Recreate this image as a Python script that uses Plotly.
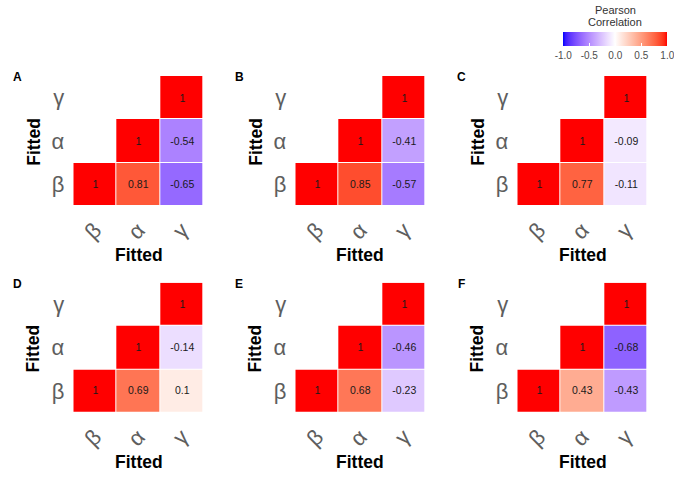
import numpy as np
import plotly.graph_objects as go

# ---------------- data ----------------
panels = ["A", "B", "C", "D", "E", "F"]
var_labels = ["β", "α", "γ"]          # order on both axes (x left->right, y bottom->top)
r_beta_alpha = [0.81, 0.85, 0.77, 0.69, 0.68, 0.43]
r_beta_gamma = [-0.65, -0.57, -0.11, 0.10, -0.23, -0.43]
r_alpha_gamma = [-0.54, -0.41, -0.09, -0.14, -0.46, -0.68]
cbar_ticks = [-1.0, -0.5, 0.0, 0.5, 1.0]
cbar_ticktext = ["-1.0", "-0.5", "0.0", "0.5", "1.0"]
axis_title = "Fitted"

W, H = 674, 477


def px(x):
    return x / W


def py(y):
    return 1 - y / H


# ------------- Lab-interpolated diverging colour scale (blue-white-red) -------------
M = np.array([[0.4124564, 0.3575761, 0.1804375],
              [0.2126729, 0.7151522, 0.0721750],
              [0.0193339, 0.1191920, 0.9503041]])
Minv = np.linalg.inv(M)
WN = np.array([0.95047, 1.0, 1.08883])
d = 6 / 29


def rgb2lab(rgb):
    c = np.array(rgb) / 255.0
    lin = np.where(c <= 0.04045, c / 12.92, ((c + 0.055) / 1.055) ** 2.4)
    xyz = M @ lin / WN
    f = np.where(xyz > d ** 3, np.cbrt(xyz), xyz / (3 * d * d) + 4 / 29)
    return np.array([116 * f[1] - 16, 500 * (f[0] - f[1]), 200 * (f[1] - f[2])])


def lab2rgb(lab):
    L, a, b = lab
    fy = (L + 16) / 116
    fx = fy + a / 500
    fz = fy - b / 200
    fs = np.array([fx, fy, fz])
    xyz = np.where(fs > d, fs ** 3, 3 * d * d * (fs - 4 / 29)) * WN
    lin = Minv @ xyz
    lin = np.clip(lin, 0, 1)
    c = np.where(lin <= 0.0031308, 12.92 * lin, 1.055 * lin ** (1 / 2.4) - 0.055)
    c = np.clip(c * 255, 0, 255)
    return "rgb(%d,%d,%d)" % tuple(np.round(c).astype(int))


lab_blue = rgb2lab([0, 0, 255])
lab_white = rgb2lab([255, 255, 255])
lab_red = rgb2lab([255, 0, 0])
colorscale = []
n = 40
for i in range(n + 1):
    s = i / n
    v = -1 + 2 * s
    if v < 0:
        lab = lab_white + (lab_blue - lab_white) * (-v)
    else:
        lab = lab_white + (lab_red - lab_white) * v
    colorscale.append([s, lab2rgb(lab)])


def fmt(v):
    return ("%.2f" % v).rstrip("0").rstrip(".")


# ---------------- layout geometry (pixels, page coordinates) ----------------
col_x0 = [73.3, 295.3, 517.3]
cell_w = 130.4
row_y0 = [76.0, 282.7]
cell_h = 130.0

fig = go.Figure()
annotations = []
layout_axes = {}
tick_font = dict(size=22, color="#5e5e5e", family="Liberation Sans")

for k, p in enumerate(panels):
    r, c = divmod(k, 3)
    x0 = col_x0[c]
    y0 = row_y0[r]
    z = [[1.0, r_beta_alpha[k], r_beta_gamma[k]],
         [None, 1.0, r_alpha_gamma[k]],
         [None, None, 1.0]]
    txt = [["" if v is None else fmt(v) for v in row] for row in z]
    idx = "" if k == 0 else str(k + 1)
    fig.add_trace(go.Heatmap(
        z=z, x=var_labels, y=var_labels, text=txt, texttemplate="%{text}",
        textfont=dict(size=10.5, color="#1a1a1a", family="Liberation Sans"),
        coloraxis="coloraxis", xgap=1, ygap=1, hoverinfo="skip",
        xaxis="x" + idx, yaxis="y" + idx,
    ))
    layout_axes["xaxis" + idx] = dict(
        domain=[px(x0), px(x0 + cell_w)], anchor="y" + idx,
        showgrid=False, zeroline=False, showline=False, ticks="",
        tickangle=-45, tickfont=tick_font,
        ticklabelstandoff=6, type="category", fixedrange=True, automargin=False,
    )
    layout_axes["yaxis" + idx] = dict(
        domain=[py(y0 + cell_h), py(y0)], anchor="x" + idx,
        showgrid=False, zeroline=False, showline=False, ticks="",
        tickfont=tick_font,
        ticklabelstandoff=8, type="category", fixedrange=True, automargin=False,
    )
    # panel letter
    annotations.append(dict(
        x=px(x0 - 56), y=py(y0 + 1), xref="paper", yref="paper",
        text="<b>%s</b>" % p, showarrow=False, xanchor="center", yanchor="middle",
        font=dict(size=12, color="black", family="Liberation Sans"),
    ))
    # y-axis title
    annotations.append(dict(
        x=px(x0 - 40), y=py(y0 + cell_h / 2 + 0.5), xref="paper", yref="paper",
        text="<b>%s</b>" % axis_title, showarrow=False, textangle=-90,
        xanchor="center", yanchor="middle",
        font=dict(size=17.5, color="black", family="Liberation Sans"),
    ))
    # x-axis title
    annotations.append(dict(
        x=px(x0 + cell_w / 2), y=py(y0 + cell_h + 49.5), xref="paper", yref="paper",
        text="<b>%s</b>" % axis_title, showarrow=False,
        xanchor="center", yanchor="middle",
        font=dict(size=17.5, color="black", family="Liberation Sans"),
    ))

# colour bar title
annotations.append(dict(x=px(615), y=py(10), xref="paper", yref="paper",
                        text="Pearson", showarrow=False, xanchor="center", yanchor="middle",
                        font=dict(size=11, color="#333333", family="Liberation Sans")))
annotations.append(dict(x=px(615), y=py(22), xref="paper", yref="paper",
                        text="Correlation", showarrow=False, xanchor="center", yanchor="middle",
                        font=dict(size=11, color="#333333", family="Liberation Sans")))

fig.update_layout(
    width=W, height=H,
    margin=dict(l=0, r=0, t=0, b=0, autoexpand=False),
    paper_bgcolor="white", plot_bgcolor="white",
    font=dict(family="Liberation Sans"),
    coloraxis=dict(
        cmin=-1, cmax=1, colorscale=colorscale,
        colorbar=dict(
            orientation="h", x=px(615.3), xanchor="center",
            y=py(32.3), yanchor="top",
            lenmode="pixels", len=104, thicknessmode="pixels", thickness=14,
            xpad=0, ypad=0, outlinewidth=0,
            tickvals=cbar_ticks, ticktext=cbar_ticktext,
            ticklabeloverflow="allow",
            ticks="inside", ticklen=3, tickcolor="white", tickwidth=1,
            tickfont=dict(size=10, color="#4d4d4d", family="Liberation Sans"),
        ),
    ),
    annotations=annotations,
    **layout_axes,
)

fig.write_html(
    "out.html",
    config={"displayModeBar": False},
    post_script="document.body.style.margin='0';document.body.style.overflow='hidden';",
)
